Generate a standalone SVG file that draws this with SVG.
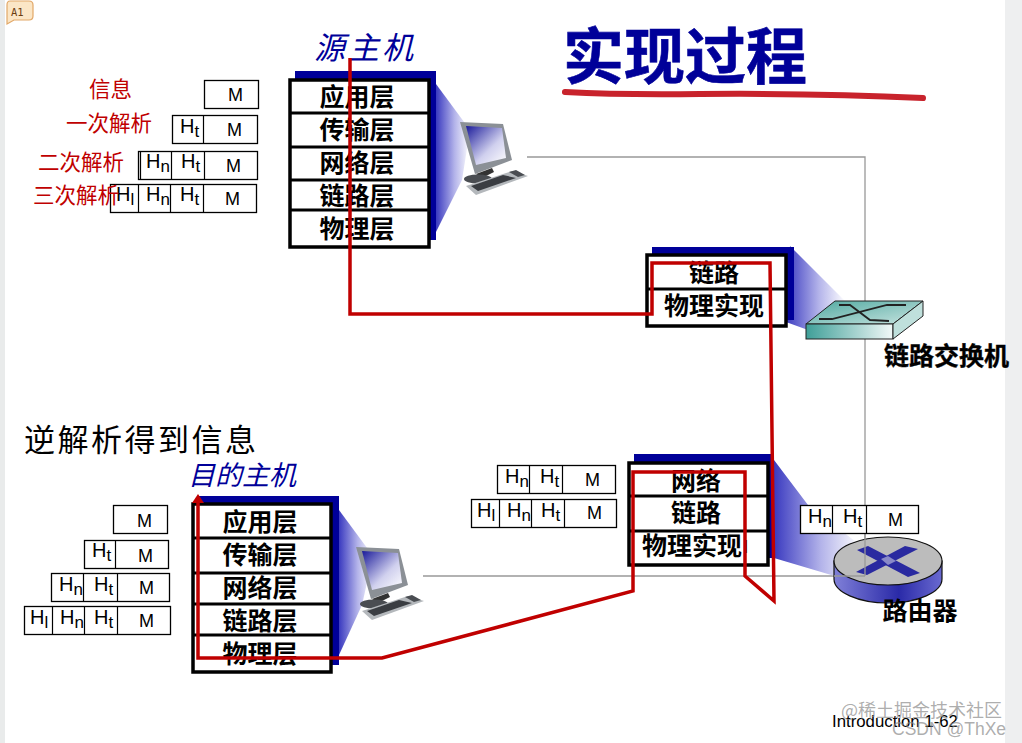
<svg xmlns="http://www.w3.org/2000/svg" width="1022" height="743" viewBox="0 0 1022 743">
<style>
.cjk{font-family:"Noto Sans CJK SC","Liberation Sans",sans-serif}
.lay{font-family:"Noto Sans CJK SC","Liberation Sans",sans-serif;font-size:25px;font-weight:700;fill:#000;text-anchor:middle}
.red{font-family:"Noto Sans CJK SC",sans-serif;font-size:21.500px;fill:#c00000}
.host{font-family:"Noto Sans CJK SC",sans-serif;font-style:italic;fill:#000099}
.shadow{fill:#000099}
.frame{fill:#fff;stroke:#000;stroke-width:3.5}
.div{stroke:#000;stroke-width:3;fill:none}
.cell{fill:#fff;stroke:#000;stroke-width:1.3}
.cline{stroke:#000;stroke-width:1.2;fill:none}
.h{font-family:"Liberation Sans",sans-serif;font-size:20px;fill:#000}
.h tspan{font-size:17px}
.m{font-family:"Liberation Sans",sans-serif;font-size:18px;fill:#000}
.wire{fill:none;stroke:#999;stroke-width:1.3}
.redline{fill:none;stroke:#c00000;stroke-width:3.500;stroke-linejoin:miter}
</style>
<defs>
<linearGradient id="cone" x1="0" x2="1" y1="0" y2="0"><stop offset="0" stop-color="#3a3ac0"/><stop offset=".55" stop-color="#b4b4ea"/><stop offset="1" stop-color="#fff"/></linearGradient>
<linearGradient id="screen" x1="0" x2="1" y1="0" y2="1"><stop offset="0" stop-color="#1a1a9a"/><stop offset=".6" stop-color="#d0d0ee"/><stop offset="1" stop-color="#fff"/></linearGradient>
<linearGradient id="teal" x1="0" x2="1" y1="0" y2="0"><stop offset="0" stop-color="#3f9f98"/><stop offset="1" stop-color="#f2f9f8"/></linearGradient>
<linearGradient id="teal2" x1="0" x2="1" y1="0" y2="1"><stop offset="0" stop-color="#4fa8a0"/><stop offset="1" stop-color="#c8e4e0"/></linearGradient>
<linearGradient id="rside" x1="0" x2="1" y1="0" y2="0"><stop offset="0" stop-color="#8080d8"/><stop offset=".6" stop-color="#2a2aa8"/><stop offset="1" stop-color="#6a6ad0"/></linearGradient>
<marker id="tip" markerWidth="11" markerHeight="12" refX="2" refY="6" orient="auto" markerUnits="userSpaceOnUse"><path d="M0 0L9 6L0 12Z" fill="#c00000"/></marker>
<g id="pc">
<polygon points="460,122 503,124 512,160 475,174" fill="#8b9096"/>
<polygon points="466,126 502,128 506,158 476,165" fill="url(#screen)"/>
<polygon points="476,174 492,168 494,172 482,178" fill="#333"/>
<ellipse cx="478" cy="179" rx="14" ry="4.500" fill="#4a4d52"/>
<polygon points="466,186 512,171 528,176 476,195" fill="#b4b8bc"/>
<polygon points="471,186 503,175 516,178 478,191" fill="#3a3d42"/>
<polygon points="509,172 516,170 525,175 518,177" fill="#4a4d52"/>
</g>
</defs>
<rect width="1022" height="743" fill="#fff"/>
<rect x="0" y="0" width="5" height="743" fill="#e9ebeb"/>
<rect x="1005" y="0" width="17" height="743" fill="#eeeff0"/>
<g id="note">
<path d="M10 1H29Q33 1 33 5V16Q33 20 29 20H14L7 24V5Q7 1 10 1Z" fill="#fbe6c6" stroke="#e2a868" stroke-width="1.2"/>
<text x="11" y="16" font-family="'DejaVu Sans Mono',monospace" font-size="10.500" fill="#6b3d10">A1</text>
</g>
<g id="title">
<text class="cjk" x="563" y="79" font-size="61" font-weight="700" fill="#000099" stroke="#000099" stroke-width=".6">实现过程</text>
<path d="M565 92Q620 95 700 94Q820 93 923 98" fill="none" stroke="#c8232c" stroke-width="6" stroke-linecap="round"/>
</g>
<g id="connectors">
<path class="wire" d="M527 157H865V576"/>
<path class="wire" d="M423 576H865"/>
</g>
<g id="source-host">
<text class="host" x="314" y="59" font-size="31" letter-spacing="3">源主机</text>
<polygon points="436,84 470,130 462,180 436,232" fill="url(#cone)"/>
<rect class="shadow" x="295" y="71" width="141" height="169"/>
<rect class="frame" x="290" y="80" width="139" height="167"/>
<path class="div" d="M290 113H429M290 147H429M290 180H429M290 210H429"/>
<text class="lay" x="357" y="106">应用层</text>
<text class="lay" x="357" y="139">传输层</text>
<text class="lay" x="357" y="172">网络层</text>
<text class="lay" x="357" y="205">链路层</text>
<text class="lay" x="357" y="238">物理层</text>
<use href="#pc"/>
</g>
<g id="source-headers">
<rect class="cell" x="204.500" y="80.500" width="54" height="28"/>
<text class="m" x="228" y="101">M</text>
<rect class="cell" x="172.500" y="115.500" width="85" height="28"/>
<path class="cline" d="M203.500 115.500V143.500"/>
<text class="h" x="180" y="133">H<tspan dy="4">t</tspan></text>
<text class="m" x="227" y="136">M</text>
<rect class="cell" x="138.500" y="151.500" width="119" height="28"/>
<path class="cline" d="M140.500 151.500V179.500M171.500 151.500V179.500M204.500 151.500V179.500"/>
<text class="h" x="146" y="168">H<tspan dy="4">n</tspan></text>
<text class="h" x="181" y="168">H<tspan dy="4">t</tspan></text>
<text class="m" x="226" y="172">M</text>
<rect class="cell" x="110.500" y="184.500" width="146" height="28"/>
<path class="cline" d="M138.500 184.500V212.500M170.500 184.500V212.500M203.500 184.500V212.500"/>
<text class="h" x="116" y="201">H<tspan dy="4">l</tspan></text>
<text class="h" x="146" y="201">H<tspan dy="4">n</tspan></text>
<text class="h" x="180" y="201">H<tspan dy="4">t</tspan></text>
<text class="m" x="225" y="205">M</text>
</g>
<g id="source-labels">
<text class="red" x="89" y="97">信息</text>
<text class="red" x="66" y="131">一次解析</text>
<text class="red" x="38" y="170">二次解析</text>
<text class="red" x="33" y="203">三次解析</text>
</g>
<g id="switch-stack">
<polygon points="790,246 846,302 808,330 786,322" fill="url(#cone)"/>
<rect class="shadow" x="652" y="247" width="142" height="73"/>
<rect class="frame" x="647" y="255" width="139" height="71"/>
<path class="div" d="M647 289H786"/>
<text class="lay" x="714" y="282">链路</text>
<text class="lay" x="714" y="315">物理实现</text>
</g>
<g id="switch">
<polygon points="806,324 835,301 923,301 893,324" fill="url(#teal2)" stroke="#222" stroke-width="1"/>
<rect x="806" y="324" width="87" height="15" fill="url(#teal)" stroke="#222" stroke-width="1"/>
<polygon points="893,324 923,301 923,316 893,339" fill="#bfe0dc" stroke="#222" stroke-width="1"/>
<path d="M819 319H832L887 305H906M839 305H850L870 320L889 321" fill="none" stroke="#222" stroke-width="1.800"/>
<text class="lay" x="946.500" y="365" stroke="#000" stroke-width=".4">链路交换机</text>
</g>
<g id="router-stack">
<polygon points="774,460 808,505 860,545 838,577 774,558" fill="url(#cone)"/>
<rect class="shadow" x="634" y="454" width="140" height="104"/>
<rect class="frame" x="629" y="463" width="139" height="102"/>
<path class="div" d="M629 496H768M629 531H768"/>
<text class="lay" x="696" y="490">网络</text>
<text class="lay" x="696" y="522">链路</text>
<text class="lay" x="692" y="555">物理实现</text>
<text class="m" x="744" y="553" fill="#555" font-size="15">l</text>
</g>
<g id="router">
<path d="M834 561V579C834 592 858 603 888 603S942 592 942 579V561Z" fill="url(#rside)" stroke="#111" stroke-width="1.200"/>
<ellipse cx="888" cy="561" rx="54" ry="24" fill="#bcbcbc" stroke="#111" stroke-width="1.200"/>
<polygon points="857,550 868,546 920,573 908,577" fill="#2a2aa0"/>
<polygon points="918,549 905,546 856,572 867,575" fill="#2a2aa0"/>
<polygon points="881,559 888,556 896,561 888,565" fill="#8a8ac8"/>
<path class="wire" d="M865 520V576M834 576H865"/>
<text class="lay" x="920" y="620">路由器</text>
</g>
<g id="router-headers">
<rect class="cell" x="800.500" y="505.500" width="118" height="28"/>
<path class="cline" d="M832.500 505.500V533.500M866.500 505.500V533.500"/>
<text class="h" x="808" y="523">H<tspan dy="4">n</tspan></text>
<text class="h" x="843" y="523">H<tspan dy="4">t</tspan></text>
<text class="m" x="888" y="526">M</text>
<rect class="cell" x="497.500" y="465.500" width="118" height="28"/>
<path class="cline" d="M529.500 465.500V493.500M562.500 465.500V493.500"/>
<text class="h" x="505" y="483">H<tspan dy="4">n</tspan></text>
<text class="h" x="540" y="483">H<tspan dy="4">t</tspan></text>
<text class="m" x="585" y="486">M</text>
<rect class="cell" x="471.500" y="499.500" width="145" height="28"/>
<path class="cline" d="M499.500 499.500V527.500M531.500 499.500V527.500M564.500 499.500V527.500"/>
<text class="h" x="477" y="517">H<tspan dy="4">l</tspan></text>
<text class="h" x="507" y="517">H<tspan dy="4">n</tspan></text>
<text class="h" x="541" y="517">H<tspan dy="4">t</tspan></text>
<text class="m" x="587" y="519">M</text>
</g>
<g id="dest-host">
<text class="cjk" x="24" y="451" font-size="31" letter-spacing="2.500" fill="#000">逆解析得到信息</text>
<text class="host" x="188" y="485" font-size="27">目的主机</text>
<polygon points="339,510 373,556 362,605 339,655" fill="url(#cone)"/>
<rect class="shadow" x="198" y="496" width="141" height="169"/>
<rect class="frame" x="193" y="504" width="138" height="168"/>
<path class="div" d="M193 538H331M193 573H331M193 604H331M193 635H331"/>
<text class="lay" x="260" y="531">应用层</text>
<text class="lay" x="260" y="564">传输层</text>
<text class="lay" x="260" y="597">网络层</text>
<text class="lay" x="260" y="630">链路层</text>
<text class="lay" x="260" y="663">物理层</text>
<use href="#pc" x="-104" y="425"/>
</g>
<g id="dest-headers">
<rect class="cell" x="113.500" y="505.500" width="54" height="28"/>
<text class="m" x="137" y="527">M</text>
<rect class="cell" x="84.500" y="540.500" width="84" height="28"/>
<path class="cline" d="M115.500 540.500V568.500"/>
<text class="h" x="92" y="557">H<tspan dy="4">t</tspan></text>
<text class="m" x="138" y="562">M</text>
<rect class="cell" x="51.500" y="573.500" width="118" height="28"/>
<path class="cline" d="M83.500 573.500V601.500M117.500 573.500V601.500"/>
<text class="h" x="59" y="591">H<tspan dy="4">n</tspan></text>
<text class="h" x="94" y="591">H<tspan dy="4">t</tspan></text>
<text class="m" x="139" y="594">M</text>
<rect class="cell" x="24.500" y="606.500" width="146" height="28"/>
<path class="cline" d="M52.500 606.500V634.500M84.500 606.500V634.500M117.500 606.500V634.500"/>
<text class="h" x="30" y="624">H<tspan dy="4">l</tspan></text>
<text class="h" x="60" y="624">H<tspan dy="4">n</tspan></text>
<text class="h" x="94" y="624">H<tspan dy="4">t</tspan></text>
<text class="m" x="139" y="627">M</text>
</g>
<g id="red-path">
<path class="redline" marker-end="url(#tip)" d="M350 58V314H652V263H770L774 601L745 576V472H633V591L382 658H198V501"/>
</g>
<g id="footer">
<text x="832" y="727" font-family="'Liberation Sans',sans-serif" font-size="16.800" fill="#000">Introduction 1-62</text>
<text x="841" y="717" font-family="'Noto Sans CJK SC',sans-serif" font-size="18" fill="#8a8a8a" fill-opacity=".7">@稀土掘金技术社区</text>
<text x="892" y="735" font-family="'Liberation Sans',sans-serif" font-size="17.500" fill="#8a8a8a" fill-opacity=".7">CSDN @ThXe</text>
</g>
</svg>
